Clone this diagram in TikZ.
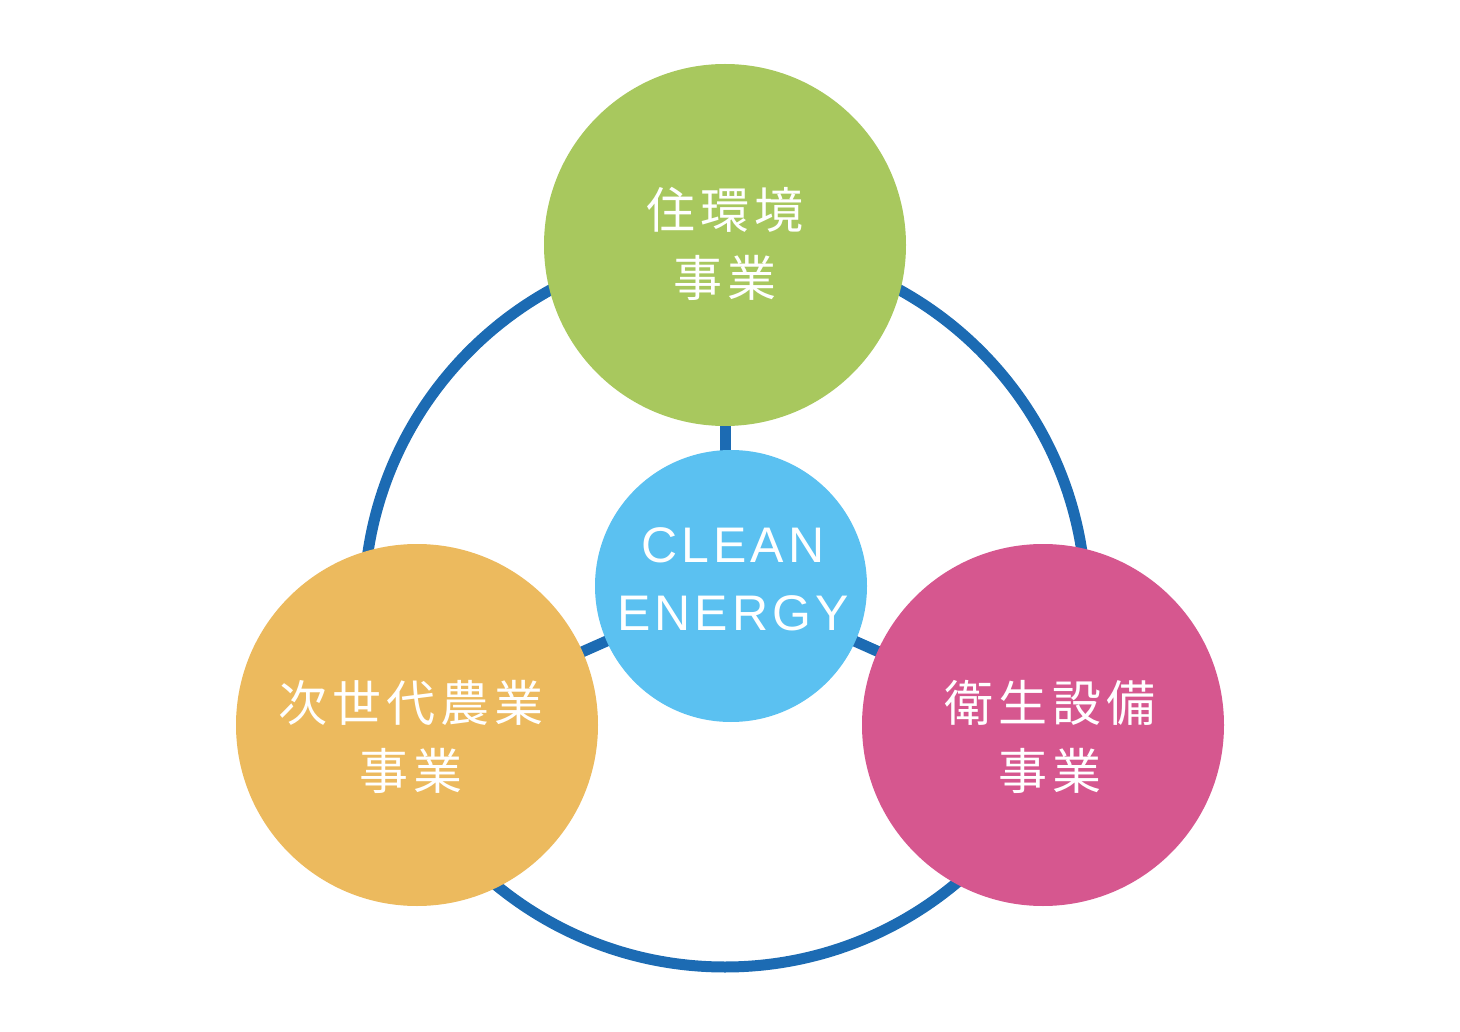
\documentclass[tikz,border=0pt]{standalone}
\usepackage{fontspec}
\setmainfont{Liberation Sans}
\newfontfamily\cjkfont[LetterSpace=10]{Noto Sans CJK JP}
\newfontfamily\spacedfont[LetterSpace=8]{Liberation Sans}
\usetikzlibrary{backgrounds}
\definecolor{ringblue}{HTML}{1C6BB3}
\definecolor{coreblue}{HTML}{5BC1F1}
\definecolor{homegreen}{HTML}{A8C85E}
\definecolor{agriorange}{HTML}{ECBA5E}
\definecolor{sanipink}{HTML}{D6578F}
\begin{document}
\begin{tikzpicture}[x=1pt,y=-1pt]
        \tikzset{bubble/.style={circle,draw=none,inner sep=0pt,minimum size=362pt},
                 biztext/.style={align=center,text=white,font=\cjkfont\fontsize{49}{68}\selectfont},
                 link/.style={ringblue,line width=11pt}};
        \useasboundingbox (0,0) rectangle (1460,1032);
        \coordinate (hub) at (725,606);
        % three businesses and the core
        \node[bubble,fill=homegreen] (home) at (725,245) {};
        \node[bubble,fill=agriorange] (agri) at (417,725) {};
        \node[bubble,fill=sanipink] (sani) at (1043,725) {};
        \node[bubble,fill=coreblue,minimum size=272pt] (core) at (731,586) {};
        \begin{scope}[on background layer]
            \draw[link] (hub) circle[radius=361];
            \draw[link] (home.center) -- (home.center |- core.center);
            \draw[link] (core.center) -- (agri.center);
            \draw[link] (core.center) -- (sani.center);
        \end{scope}
        \node[biztext] (home-t) at (725,244) {住環境\\事業};
        \node[biztext] (agri-t) at (411,737) {次世代農業\\事業};
        \node[biztext] (sani-t) at (1050,737) {衛生設備\\事業};
        \node[align=center,text=white,font=\spacedfont\fontsize{50}{68}\selectfont] (core-t) at (733,579) {CLEAN\\ENERGY};
    \end{tikzpicture}
\end{document}
